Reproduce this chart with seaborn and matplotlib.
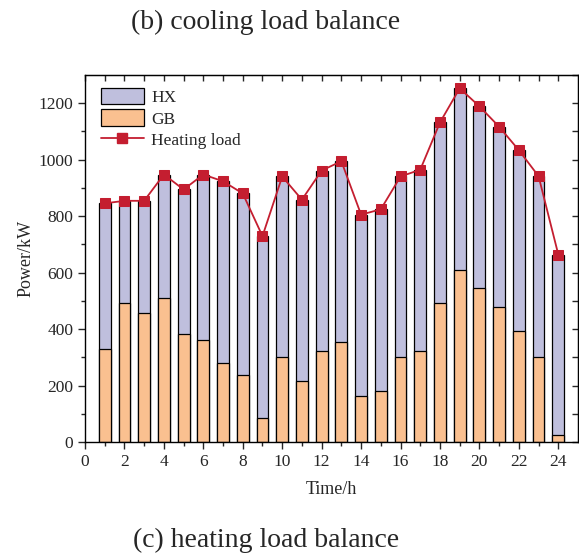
import numpy as np
import pandas as pd
import matplotlib
matplotlib.use("Agg")
import matplotlib.pyplot as plt
import seaborn as sns
from matplotlib.patches import Patch
from matplotlib.lines import Line2D

# dados
horas = list(range(1, 25))
carga_calor = [845, 854, 854, 947, 894, 947, 923, 880, 729, 940, 858, 961,
               994, 805, 824, 940, 964, 1131, 1252, 1188, 1116, 1033, 941, 664]
gb = [331, 494, 456, 510, 382, 362, 280, 238, 86, 301, 217, 323,
      353, 164, 183, 301, 324, 492, 610, 545, 477, 395, 301, 25]
hx = [t - g for t, g in zip(carga_calor, gb)]

df = pd.DataFrame({"Hora": horas, "HX": hx, "GB": gb, "Carga": carga_calor})
df["Total"] = df["HX"] + df["GB"]

sns.set_style("ticks")
plt.rcParams["font.family"] = ["Liberation Serif", "DejaVu Serif"]

cor_hx = "#BFBFDD"
cor_gb = "#FAC090"
cor_linha = "#C41E30"

fig = plt.figure(figsize=(5.79, 5.55), dpi=100)
ax = fig.add_axes([0.1468, 0.2031, 0.8515, 0.6623])

# barras empilhadas: total (HX em cima) e depois GB por cima
sns.barplot(data=df, x="Hora", y="Total", native_scale=True, width=0.6,
            color=cor_hx, saturation=1, edgecolor="black", linewidth=0.9, ax=ax)
sns.barplot(data=df, x="Hora", y="GB", native_scale=True, width=0.6,
            color=cor_gb, saturation=1, edgecolor="black", linewidth=0.9, ax=ax)
sns.lineplot(data=df, x="Hora", y="Carga", color=cor_linha, linewidth=1.3,
             marker="s", markersize=6.5, markeredgecolor=cor_linha, ax=ax)

ax.set_xlim(0, 25)
ax.set_ylim(0, 1300)
ax.set_xticks(range(0, 25, 2))
ax.set_xticks(range(1, 25, 2), minor=True)
ax.set_yticks(range(0, 1201, 200))
ax.set_yticks(range(100, 1300, 200), minor=True)
ax.tick_params(which="major", direction="out", length=5, width=1, labelsize=12.5)
ax.tick_params(which="minor", direction="out", length=3, width=1)
for s in ax.spines.values():
    s.set_linewidth(1)
    s.set_color("black")

# ticks espelhados para dentro no topo e na direita
ax_top = ax.secondary_xaxis("top")
ax_top.set_xticks(range(0, 25))
ax_top.tick_params(direction="in", length=4, width=1, labeltop=False)
ax_dir = ax.secondary_yaxis("right")
ax_dir.set_yticks(range(0, 1301, 100))
ax_dir.tick_params(direction="in", length=4, width=1, labelright=False)

ax.set_xlabel("Time/h", fontsize=13, labelpad=8)
ax.set_ylabel("Power/kW", fontsize=13, labelpad=3)

handles = [Patch(facecolor=cor_hx, edgecolor="black", linewidth=0.9, label="HX"),
           Patch(facecolor=cor_gb, edgecolor="black", linewidth=0.9, label="GB"),
           Line2D([0], [0], color=cor_linha, linewidth=1.3, marker="s",
                  markersize=6.5, label="Heating load")]
ax.legend(handles=handles, loc="upper left", bbox_to_anchor=(0.032, 0.965),
          frameon=False, fontsize=12.5, borderpad=0, borderaxespad=0,
          handlelength=2.5, handleheight=1.1, labelspacing=0.2, handletextpad=0.4)

fig.text(266 / 579, 1 - 22 / 555, "(b) cooling load balance", fontsize=20,
         ha="center", va="center")
fig.text(266 / 579, 1 - 540 / 555, "(c) heating load balance", fontsize=20,
         ha="center", va="center")

fig.savefig("out.png", dpi=100)
